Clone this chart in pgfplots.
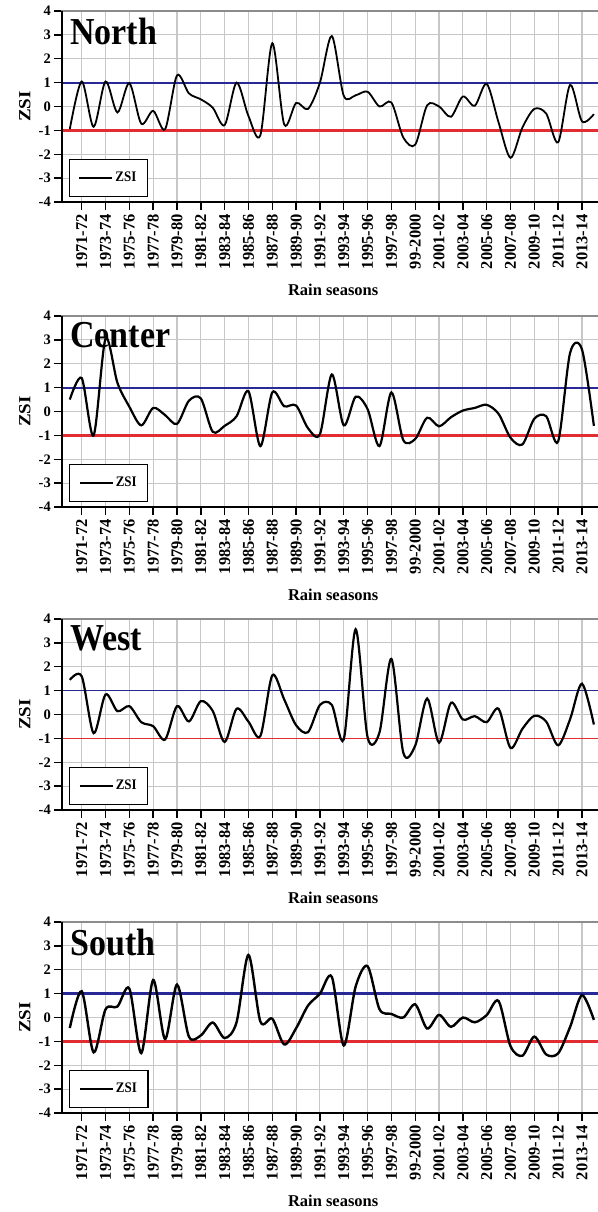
\documentclass[border=0pt]{standalone}
\usepackage{pgfplots}
\pgfplotsset{compat=1.18}
\usepackage{pgfplotstable}
\usepackage{graphicx}
\usepackage{fontspec}
\setmainfont{Liberation Serif}
\definecolor{zblue}{RGB}{40,40,150}
\definecolor{zred}{RGB}{225,45,50}
\newcommand\vs[1]{\scalebox{1}[1.12]{#1}}
\newcommand\hs[1]{\scalebox{1.12}[1]{#1}}

\pgfplotstableread{
i z
0 -0.95
1 1.05
2 -0.85
3 1.05
4 -0.25
5 0.98
6 -0.72
7 -0.18
8 -0.95
9 1.3
10 0.55
11 0.3
12 -0.05
13 -0.78
14 1.0
15 -0.4
16 -1.2
17 2.65
18 -0.75
19 0.15
20 -0.1
21 1.0
22 2.95
23 0.45
24 0.47
25 0.62
26 0.0
27 0.17
28 -1.3
29 -1.6
30 0.05
31 0.0
32 -0.43
33 0.42
34 0.03
35 0.95
36 -0.67
37 -2.15
38 -0.88
39 -0.1
40 -0.3
41 -1.5
42 0.9
43 -0.62
44 -0.32
}\north

\pgfplotstableread{
i z
0 0.5
1 1.4
2 -1.0
3 3.05
4 1.2
5 0.2
6 -0.58
7 0.15
8 -0.15
9 -0.52
10 0.45
11 0.55
12 -0.85
13 -0.6
14 -0.2
15 0.85
16 -1.45
17 0.8
18 0.22
19 0.25
20 -0.7
21 -0.95
22 1.55
23 -0.58
24 0.62
25 0.1
26 -1.45
27 0.8
28 -1.2
29 -1.15
30 -0.26
31 -0.62
32 -0.24
33 0.04
34 0.15
35 0.28
36 -0.1
37 -1.1
38 -1.38
39 -0.3
40 -0.2
41 -1.25
42 2.45
43 2.6
44 -0.6
}\center

\pgfplotstableread{
i z
0 1.45
1 1.6
2 -0.78
3 0.84
4 0.14
5 0.35
6 -0.32
7 -0.49
8 -1.05
9 0.35
10 -0.29
11 0.56
12 0.15
13 -1.15
14 0.24
15 -0.3
16 -0.9
17 1.64
18 0.63
19 -0.45
20 -0.74
21 0.4
22 0.4
23 -1.04
24 3.57
25 -0.95
26 -0.75
27 2.33
28 -1.6
29 -1.3
30 0.67
31 -1.18
32 0.49
33 -0.21
34 -0.07
35 -0.32
36 0.24
37 -1.4
38 -0.6
39 -0.05
40 -0.3
41 -1.29
42 -0.2
43 1.29
44 -0.42
}\west

\pgfplotstableread{
i z
0 -0.44
1 1.1
2 -1.46
3 0.34
4 0.46
5 1.21
6 -1.49
7 1.57
8 -0.9
9 1.38
10 -0.8
11 -0.75
12 -0.21
13 -0.86
14 -0.2
15 2.62
16 -0.17
17 -0.05
18 -1.13
19 -0.45
20 0.5
21 1.0
22 1.7
23 -1.17
24 1.3
25 2.15
26 0.35
27 0.15
28 0.0
29 0.55
30 -0.46
31 0.11
32 -0.39
33 0.0
34 -0.2
35 0.1
36 0.69
37 -1.2
38 -1.6
39 -0.8
40 -1.55
41 -1.5
42 -0.4
43 0.94
44 -0.1
}\south

\pgfplotsset{zsi/.style={
  scale only axis, width=537pt, height=191pt,
  xmin=-0.655, xmax=44.43, ymin=-4, ymax=4,
  xtick={1,3,...,43},
  xticklabels={1971-72,1973-74,1975-76,1977-78,1979-80,1981-82,1983-84,1985-86,1987-88,1989-90,1991-92,1993-94,1995-96,1997-98,99-2000,2001-02,2003-04,2005-06,2007-08,2009-10,2011-12,2013-14},
  ytick={-4,-3,...,4},
  yticklabels={-4,-3,-2,-1,0,1,2,3,4},
  tick align=outside, xtick pos=left, ytick pos=left,
  major tick length=8pt,
  tick style={black, line width=1.4pt},
  grid=major, grid style={black!22, line width=1.1pt},
  axis line style={black!45, line width=1.5pt},
  xticklabel style={rotate=90, anchor=east, inner sep=4pt, font=\fontsize{16.5}{16.5}\selectfont\bfseries},
  yticklabel style={inner sep=3pt, font=\fontsize{14.5}{14.5}\selectfont\bfseries},
  ylabel={\hs{ZSI}},
  ylabel style={at={(axis description cs:-0.069,0.5)}, anchor=center, font=\fontsize{17}{17}\selectfont\bfseries},
  xlabel={Rain seasons},
  xlabel style={at={(axis description cs:0.505,-0.46)}, anchor=center, font=\fontsize{16.5}{16.5}\selectfont\bfseries},
  title style={at={(axis description cs:0.015,0.935)}, anchor=north west, inner sep=0pt, font=\fontsize{34}{34}\selectfont\bfseries},
  legend style={at={(axis description cs:0.013,0.026)}, anchor=south west, draw=black, line width=1.2pt, fill=white,
    font=\fontsize{13}{13}\selectfont\bfseries, inner xsep=9pt, inner ysep=11pt},
  legend image code/.code={\draw[#1] (0pt,0pt) -- (33pt,0pt);},
  after end axis/.code={\draw[black, line width=1.8pt] (rel axis cs:0,1) -- (rel axis cs:0,0) -- (rel axis cs:1,0);},
}}

\begin{document}
\begin{tikzpicture}
\path[use as bounding box] (0pt,0pt) rectangle (597pt,-1212pt);

\begin{axis}[zsi, at={(62pt,-202pt)}, anchor=south west, title={\vs{North}}]
\addplot[zblue, line width=1.8pt, forget plot] coordinates {(-1,1) (45,1)};
\addplot[zred, line width=2.4pt, forget plot] coordinates {(-1,-1) (45,-1)};
\addplot[black, line width=1.8pt, smooth, tension=0.5] table[x=i, y=z] {\north};
\addlegendentry{\vs{ZSI}}
\end{axis}

\begin{axis}[zsi, at={(62pt,-507pt)}, anchor=south west, title={\vs{Center}}]
\addplot[zblue, line width=2.2pt, forget plot] coordinates {(-1,1) (45,1)};
\addplot[zred, line width=2.4pt, forget plot] coordinates {(-1,-1) (45,-1)};
\addplot[black, line width=2.2pt, smooth, tension=0.5] table[x=i, y=z] {\center};
\addlegendentry{\vs{ZSI}}
\end{axis}

\begin{axis}[zsi, at={(62pt,-810pt)}, anchor=south west, title={\vs{West}}]
\addplot[zblue, line width=1.6pt, forget plot] coordinates {(-1,1) (45,1)};
\addplot[zred, line width=1.6pt, forget plot] coordinates {(-1,-1) (45,-1)};
\addplot[black, line width=2.2pt, smooth, tension=0.5] table[x=i, y=z] {\west};
\addlegendentry{\vs{ZSI}}
\end{axis}

\begin{axis}[zsi, at={(62pt,-1113pt)}, anchor=south west, title={\vs{South}}]
\addplot[zblue, line width=2.4pt, forget plot] coordinates {(-1,1) (45,1)};
\addplot[zred, line width=2.6pt, forget plot] coordinates {(-1,-1) (45,-1)};
\addplot[black, line width=2.4pt, smooth, tension=0.5] table[x=i, y=z] {\south};
\addlegendentry{\vs{ZSI}}
\end{axis}
\end{tikzpicture}
\end{document}
